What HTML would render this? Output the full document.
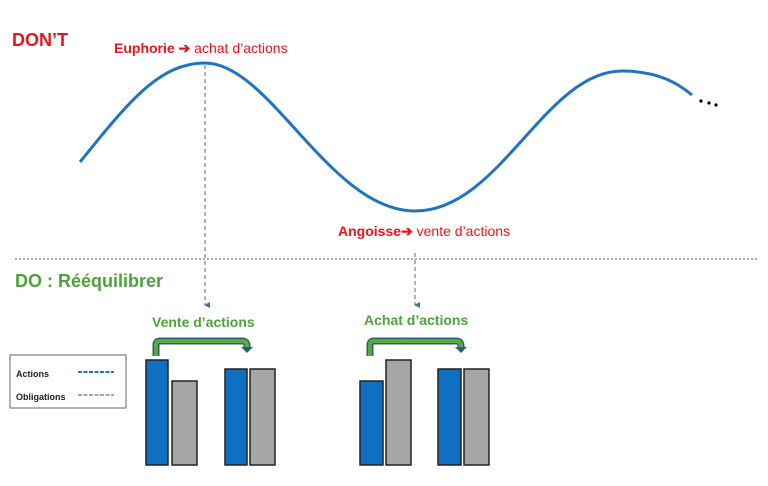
<!DOCTYPE html>
<html><head><style>
body{margin:0;width:768px;height:486px;background:#fff;overflow:hidden;font-family:"Liberation Sans",sans-serif}
</style></head><body>
<svg width="768" height="486" xmlns="http://www.w3.org/2000/svg" style="position:absolute;left:0;top:0">
<defs><marker id="a" markerWidth="6" markerHeight="6" refX="3" refY="5" orient="auto"><path d="M0,0 L6,0 L3,6 z" fill="#41719c"/></marker></defs>
<path d="M80,162 C130,100 160,63 205,63 C270,63 330,211 415,211 C500,211 545,71 622,71 C660,71 680,85 692,95" fill="none" stroke="#1f74c2" stroke-width="3"/>
<circle cx="701" cy="101" r="1.6" fill="#000"/>
<circle cx="709" cy="103" r="1.6" fill="#000"/>
<circle cx="716" cy="105" r="1.6" fill="#000"/>
<line x1="205" y1="65" x2="205" y2="305" stroke="#41719c" stroke-width="1" stroke-dasharray="4,3" marker-end="url(#a)"/>
<line x1="415" y1="253" x2="415" y2="305" stroke="#41719c" stroke-width="1" stroke-dasharray="4,3" marker-end="url(#a)"/>
<line x1="15" y1="259" x2="757" y2="259" stroke="#555" stroke-width="1" stroke-dasharray="2,2"/>
<text x="12" y="46" font-size="18" font-weight="bold" fill="#e8141b">DON’T</text>
<text x="114" y="53" font-size="14" fill="#e8141b"><tspan font-weight="bold">Euphorie ➔</tspan> achat d’actions</text>
<text x="338" y="236" font-size="14" fill="#e8141b"><tspan font-weight="bold">Angoisse➔</tspan> vente d’actions</text>
<text x="15" y="287" font-size="18" font-weight="bold" fill="#4ea23a">DO : Rééquilibrer</text>
<text x="152" y="327" font-size="14" font-weight="bold" fill="#4ea23a">Vente d’actions</text>
<text x="364" y="325" font-size="14" font-weight="bold" fill="#4ea23a">Achat d’actions</text>
<g fill="none" stroke-linejoin="round">
<path d="M156,356 V345 Q156,341 160,341 H242 Q247,341 247,346 V348" stroke="#2e5f78" stroke-width="7"/>
<path d="M156,356 V345 Q156,341 160,341 H242 Q247,341 247,346 V348" stroke="#5aaa3a" stroke-width="4"/>
<path d="M370,356 V345 Q370,341 374,341 H456 Q461,341 461,346 V348" stroke="#2e5f78" stroke-width="7"/>
<path d="M370,356 V345 Q370,341 374,341 H456 Q461,341 461,346 V348" stroke="#5aaa3a" stroke-width="4"/>
</g>
<path d="M241,347 L253,347 L247,353 z" fill="#2e5f78"/>
<path d="M455,347 L467,347 L461,353 z" fill="#2e5f78"/>
<g stroke="#222" stroke-width="1.5">
<rect x="146" y="360" width="22" height="105" fill="#0f6fc0"/>
<rect x="172" y="381" width="25" height="84" fill="#a6a6a6"/>
<rect x="225" y="369" width="22" height="96" fill="#0f6fc0"/>
<rect x="250" y="369" width="25" height="96" fill="#a6a6a6"/>
<rect x="360" y="381" width="23" height="84" fill="#0f6fc0"/>
<rect x="386" y="360" width="25" height="105" fill="#a6a6a6"/>
<rect x="438" y="369" width="23" height="96" fill="#0f6fc0"/>
<rect x="464" y="369" width="25" height="96" fill="#a6a6a6"/>
</g>
<rect x="10" y="355" width="116" height="53" fill="#fff" stroke="#666" stroke-width="1"/>
<text x="16" y="377" font-size="9" font-weight="bold" fill="#222">Actions</text>
<text x="16" y="400" font-size="9" font-weight="bold" fill="#222">Obligations</text>
<line x1="78" y1="372" x2="114" y2="372" stroke="#1f74c2" stroke-width="2" stroke-dasharray="4,1.5"/>
<line x1="78" y1="395" x2="114" y2="395" stroke="#a6a6a6" stroke-width="2" stroke-dasharray="4,1.5"/>
</svg>
</body></html>
